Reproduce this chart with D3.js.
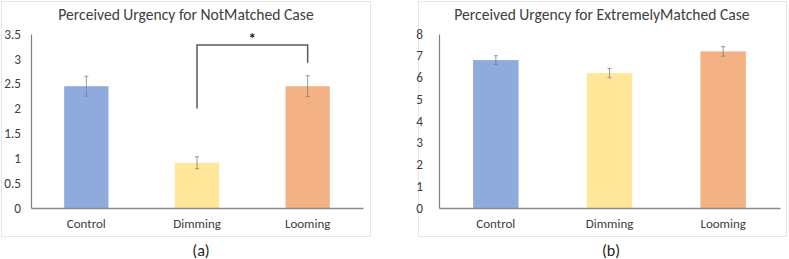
<!DOCTYPE html>
<html><head><meta charset="utf-8">
<script src="https://cdn.jsdelivr.net/npm/d3@7"></script>
<style>body{margin:0;background:#fff;} text{font-family:Calibri,Carlito,"Open Sans","Liberation Sans",sans-serif;}</style>
</head><body><svg id="c" width="789" height="259"></svg>
<script>
const categories = ["Control","Dimming","Looming"];
const colors = ["#8FAADC","#FFE699","#F4B183"];
const valuesA = [2.45, 0.91, 2.45];
const errA = [0.2, 0.12, 0.21];
const ticksA = [0,0.5,1,1.5,2,2.5,3,3.5];
const valuesB = [6.8, 6.2, 7.2];
const errB = [0.2, 0.21, 0.22];
const ticksB = [0,1,2,3,4,5,6,7,8];
const titles = ["Perceived Urgency for NotMatched Case","Perceived Urgency for ExtremelyMatched Case"];
const captions = ["(a)","(b)"];
const bracketA = {from:"Dimming", to:"Looming", left:2.0, top:3.28, right:2.92, label:"*"};

const svg = d3.select("#c");
const font = "Calibri,Carlito,'Open Sans','Liberation Sans',sans-serif";

function panel(cfg){
  const g = svg.append("g");
  g.append("rect").attr("x",cfg.box[0]+0.5).attr("y",cfg.box[1]+0.5)
    .attr("width",cfg.box[2]).attr("height",cfg.box[3])
    .attr("fill","#fff").attr("stroke","#e6e6e6");
  const x = d3.scaleBand().domain(categories).range([cfg.x0,cfg.x1]).paddingInner(0.6).paddingOuter(0.3);
  const y = d3.scaleLinear().domain([0,cfg.max]).range([cfg.y0,cfg.y1]);
  g.append("text").attr("x",cfg.titleX).attr("y",20).attr("text-anchor","middle")
    .attr("font-size",15.6).attr("fill","#404040").text(cfg.title);
  // bars
  g.selectAll("rect.bar").data(cfg.values).enter().append("rect").attr("class","bar")
    .attr("x",(d,i)=>x(categories[i])).attr("width",x.bandwidth())
    .attr("y",d=>y(d)).attr("height",d=>y(0)-y(d)).attr("fill",(d,i)=>colors[i]);
  // y axis
  const ya = d3.axisLeft(y).tickValues(cfg.ticks).tickSize(0).tickPadding(cfg.tickPad).tickFormat(d=>String(d));
  const yg = g.append("g").attr("transform",`translate(${cfg.x0},0)`).call(ya);
  yg.select(".domain").attr("stroke","#7f7f7f").attr("stroke-width",1.2);
  yg.selectAll("text").attr("font-size",13.2).attr("fill","#404040").attr("font-family",font);
  // x axis
  const xa = d3.axisBottom(x).tickSize(0).tickPadding(11);
  const xg = g.append("g").attr("transform",`translate(0,${cfg.y0})`).call(xa);
  xg.select(".domain").attr("stroke","#8c8c8c").attr("stroke-width",1.5);
  xg.selectAll("text").attr("font-size",13).attr("fill","#404040").attr("font-family",font);
  // error bars
  cfg.values.forEach((v,i)=>{
    const cx = x(categories[i]) + x.bandwidth()/2;
    const e = cfg.err[i];
    g.append("line").attr("x1",cx).attr("x2",cx).attr("y1",y(v+e)).attr("y2",y(v-e)).attr("stroke","#7f7f7f").attr("stroke-width",0.8);
    [v+e,v-e].forEach(t=>g.append("line").attr("x1",cx-2).attr("x2",cx+2).attr("y1",y(t)).attr("y2",y(t)).attr("stroke","#7f7f7f").attr("stroke-width",0.8));
  });
  // caption
  svg.append("text").attr("x",cfg.capX).attr("y",256).attr("text-anchor","middle")
    .attr("font-size",16).attr("fill","#222").text(cfg.caption);
  return {x,y,g};
}

const A = panel({box:[1,1,369,235], x0:31, x1:363, y0:208, y1:34, max:3.5, ticks:ticksA, tickPad:10,
  values:valuesA, err:errA, title:titles[0], titleX:186, caption:captions[0], capX:201});
const B = panel({box:[418,1,368,235], x0:439, x1:780, y0:208, y1:34, max:8, ticks:ticksB, tickPad:16,
  values:valuesB, err:errB, title:titles[1], titleX:602, caption:captions[1], capX:611});

// significance bracket
{
  const bx1 = A.x(bracketA.from)+A.x.bandwidth()/2, bx2 = A.x(bracketA.to)+A.x.bandwidth()/2;
  const p = d3.path();
  p.moveTo(bx1, A.y(bracketA.left)); p.lineTo(bx1, A.y(bracketA.top));
  p.lineTo(bx2, A.y(bracketA.top)); p.lineTo(bx2, A.y(bracketA.right));
  A.g.append("path").attr("d",p.toString()).attr("fill","none").attr("stroke","#595959").attr("stroke-width",1.5);
  A.g.append("text").attr("x",(bx1+bx2)/2).attr("y",A.y(bracketA.top)-1).attr("text-anchor","middle")
    .attr("font-size",15).attr("font-weight","bold").attr("fill","#262626").text(bracketA.label);
}
</script></body></html>
